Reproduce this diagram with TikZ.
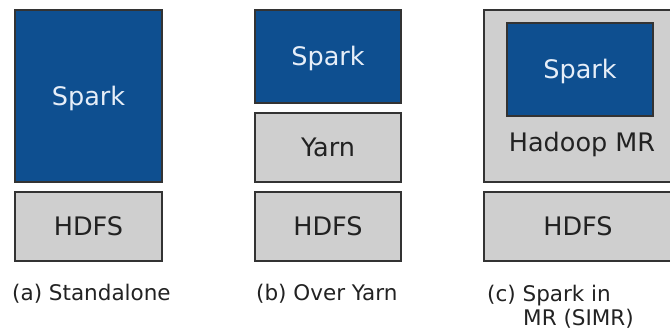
\documentclass[tikz,border=0pt]{standalone}
\usepackage{fontspec}
\setmainfont{DejaVu Sans}
\definecolor{sparkblue}{HTML}{0E4F90}
\definecolor{boxgray}{HTML}{CFCFCF}
\definecolor{edge}{HTML}{333333}
\definecolor{sparktext}{HTML}{E6EEF8}
\definecolor{labeltext}{HTML}{222222}
\begin{document}
\begin{tikzpicture}[x=1pt,y=-1pt,
  boxfont/.style={font=\fontsize{25.5}{30}\selectfont,text height=18.6pt,text depth=0pt},
  sparkbox/.style={draw=edge,line width=1.5pt,fill=sparkblue,text=sparktext,boxfont,inner sep=0pt},
  graybox/.style={draw=edge,line width=1.5pt,fill=boxgray,text=labeltext,boxfont,inner sep=0pt},
  caption/.style={text=labeltext,font=\fontsize{21.5}{25}\selectfont,inner sep=0pt,anchor=base west}]
\useasboundingbox (0,0) rectangle (670,331);
\fill[white] (0,0) rectangle (670,331);
% (a)
\node[sparkbox,minimum width=147pt,minimum height=172pt] (aspark) at (88.5,96) {Spark};
\node[graybox,minimum width=147pt,minimum height=69pt] (ahdfs) at (88.5,226.5) {HDFS};
\node[caption] (acap) at (12,301) {(a) Standalone};
% (b)
\node[sparkbox,minimum width=146pt,minimum height=93pt] (bspark) at (328,56.5) {Spark};
\node[graybox,minimum width=146pt,minimum height=69pt] (byarn) at (328,147.5) {Yarn};
\node[graybox,minimum width=146pt,minimum height=69pt] (bhdfs) at (328,226.5) {HDFS};
\node[caption] (bcap) at (256,301) {(b) Over Yarn};
% (c)
\node[graybox,minimum width=188pt,minimum height=172pt] (cmr) at (578,96) {};
\node[sparkbox,minimum width=146pt,minimum height=93pt] (cspark) at (580,69.5) {Spark};
\node[text=labeltext,font=\fontsize{25.5}{30}\selectfont,inner sep=0pt,anchor=base] (cmrtext) at (582,152) {Hadoop MR};
\node[graybox,minimum width=188pt,minimum height=69pt] (chdfs) at (578,226.5) {HDFS};
\node[caption] (ccap1) at (487,302) {(c) Spark in};
\node[caption] (ccap2) at (523,326) {MR (SIMR)};
\end{tikzpicture}
\end{document}
